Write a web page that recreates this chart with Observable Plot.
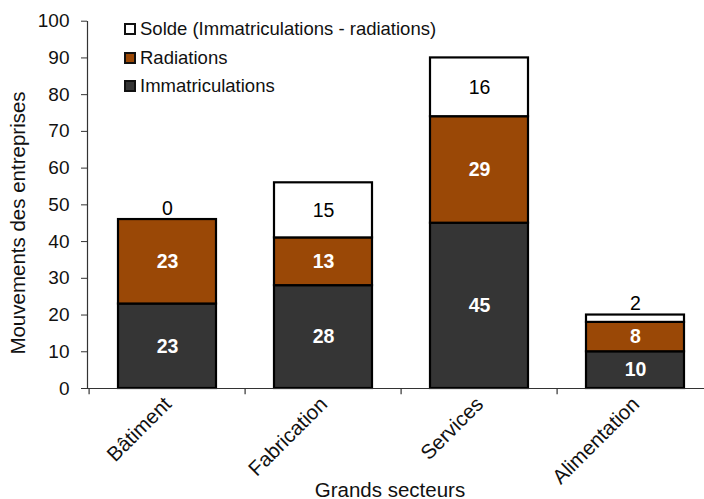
<!DOCTYPE html>
<html>
<head>
<meta charset="utf-8">
<script src="https://cdn.jsdelivr.net/npm/d3@7"></script>
<script src="https://cdn.jsdelivr.net/npm/@observablehq/plot@0.6"></script>
<style>
  html, body { margin: 0; padding: 0; background: #ffffff; }
  #wrap { position: relative; width: 704px; height: 499px; overflow: hidden; font-family: "Liberation Sans", Arial, sans-serif; }
  #legend { position: absolute; left: 124px; top: 15px; font-size: 18.5px; color: #111; }
  .item { display: flex; align-items: center; height: 28.5px; }
  .sw { width: 8px; height: 8px; border: 2px solid #111; margin-right: 4px; box-sizing: content-box; }
</style>
</head>
<body>
<div id="wrap"><div id="legend"></div></div>
<script>
const secteurs = ["Bâtiment", "Fabrication", "Services", "Alimentation"];
const immatriculations = [23, 28, 45, 10];
const radiations = [23, 13, 29, 8];
const solde = [0, 15, 16, 2];
const series = ["Immatriculations", "Radiations", "Solde (Immatriculations - radiations)"];
const colors = ["#353535", "#9a4806", "#ffffff"];
const yTicks = [0, 10, 20, 30, 40, 50, 60, 70, 80, 90, 100];

const values = [immatriculations, radiations, solde];
const rows = [];
secteurs.forEach((s, i) => {
  let base = 0;
  values.forEach((arr, k) => {
    const v = arr[i];
    rows.push({secteur: s, serie: series[k], k, value: v, y1: base, y2: base + v, total: immatriculations[i] + radiations[i] + solde[i]});
    base += v;
  });
});
const insideBold = rows.filter(d => d.k !== 2);
const insideSolde = rows.filter(d => d.k === 2 && d.value >= 5);
const above = rows.filter(d => d.k === 2 && d.value < 5);

const font = "Liberation Sans, Arial, sans-serif";
const chart = Plot.plot({
  width: 704,
  height: 499,
  marginLeft: 87,
  marginRight: 0,
  marginTop: 21,
  marginBottom: 111,
  style: {fontFamily: font, background: "#ffffff", color: "#111"},
  x: {domain: secteurs, range: [87, 714], paddingInner: 0.375, paddingOuter: 0.1875, axis: null},
  y: {domain: [0, 100], range: [388, 20.7], axis: null},
  color: {domain: series, range: colors},
  marks: [
    Plot.barY(rows, {x: "secteur", y1: "y1", y2: "y2", fill: "serie", stroke: "#000", strokeWidth: 2.2}),
    Plot.text(insideBold, {x: "secteur", y: d => (d.y1 + d.y2) / 2, text: d => String(d.value),
      fill: "#fff", fontWeight: "bold", fontSize: 19.5}),
    Plot.text(insideSolde, {x: "secteur", y: d => (d.y1 + d.y2) / 2, text: d => String(d.value),
      fill: "#000", fontSize: 19.5}),
    Plot.text(above, {x: "secteur", y: "total", text: d => String(d.value), dy: -11, fill: "#000", fontSize: 19.5}),
    Plot.axisY({ticks: yTicks, tickSize: 6, tickPadding: 12, fontSize: 19, stroke: "#333", fill: "#111", label: null}),
    Plot.frame({anchor: "left", stroke: "#333", strokeWidth: 1.2}),
    Plot.ruleY([0], {stroke: "#333", strokeWidth: 1.2}),
    Plot.ruleX(secteurs, {x: d => d, y1: 0, y2: -1.7, dx: -78.4, stroke: "#333", strokeWidth: 1.2}),
    Plot.text(secteurs, {x: d => d, frameAnchor: "bottom", rotate: -45, textAnchor: "end", dx: 5, dy: 17, fontSize: 20.5, fill: "#111"}),
    Plot.text(["Grands secteurs"], {frameAnchor: "bottom", textAnchor: "middle", dx: -6, dy: 108, fontSize: 20.5, fill: "#111"}),
    Plot.text(["Mouvements des entreprises"], {frameAnchor: "left", textAnchor: "middle", rotate: -90, dx: -69, dy: 18, fontSize: 20.5, fill: "#111"})
  ]
});
const wrap = document.getElementById("wrap");
wrap.insertBefore(chart, wrap.firstChild);

const legend = document.getElementById("legend");
[2, 1, 0].forEach(k => {
  const it = document.createElement("div");
  it.className = "item";
  const sw = document.createElement("span");
  sw.className = "sw";
  sw.style.background = colors[k];
  const t = document.createElement("span");
  t.textContent = series[k];
  it.appendChild(sw); it.appendChild(t);
  legend.appendChild(it);
});
</script>
</body>
</html>
